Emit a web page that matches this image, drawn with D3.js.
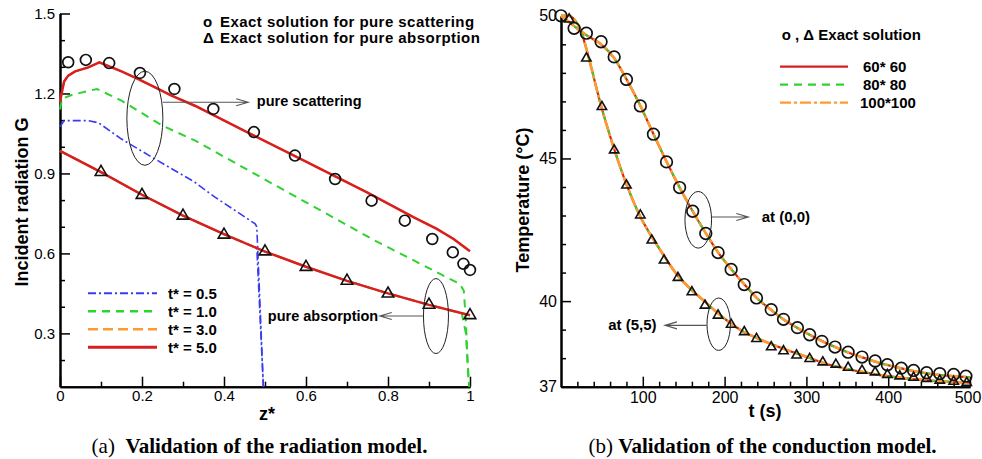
<!DOCTYPE html>
<html>
<head>
<meta charset="utf-8">
<script src="https://cdn.jsdelivr.net/npm/d3@7"></script>
<style>
  body { margin: 0; background: #fff; }
  svg { display: block; font-family: "Liberation Sans", Arial, sans-serif; }
</style>
</head>
<body>
<script>
// ---------- (a) radiation model : [z*, G] ----------
const exactScatZ = [0.02, 0.063, 0.12, 0.195, 0.279, 0.374, 0.473, 0.573, 0.671, 0.76, 0.841, 0.908, 0.958, 0.984, 1.0];
const exactScatG = [1.317, 1.326, 1.314, 1.277, 1.217, 1.142, 1.055, 0.967, 0.879, 0.798, 0.723, 0.654, 0.604, 0.561, 0.538];
const exactAbsZ = [0.1, 0.2, 0.3, 0.4, 0.5, 0.6, 0.7, 0.8, 0.9, 1.0];
const exactAbsG = [0.905, 0.819, 0.741, 0.670, 0.607, 0.549, 0.497, 0.449, 0.407, 0.368];

const scatT05 = [[0, 1.075], [0.01, 1.098], [0.07, 1.098], [0.094, 1.09], [0.15, 1.029], [0.232, 0.954], [0.329, 0.867], [0.378, 0.811], [0.476, 0.711], [0.48, 0.70], [0.496, 0.1]];
const scatT10 = [[0, 1.14], [0.005, 1.18], [0.03, 1.195], [0.09, 1.217], [0.15, 1.173], [0.25, 1.079], [0.33, 1.023], [0.5, 0.877], [0.65, 0.749], [0.768, 0.648], [0.85, 0.584], [0.95, 0.505], [0.975, 0.486], [0.985, 0.46], [0.99, 0.343], [0.995, 0.155], [0.998, 0.1]];
const scatT30 = [[0, 1.17], [0.01, 1.245], [0.02, 1.267], [0.037, 1.283], [0.069, 1.298], [0.096, 1.317], [0.15, 1.283], [0.191, 1.254], [0.232, 1.223], [0.272, 1.192], [0.329, 1.154], [0.45, 1.06], [0.6, 0.944], [0.75, 0.828], [0.862, 0.736], [0.919, 0.692], [0.96, 0.654], [1.0, 0.608]];
const scatT50 = [[0, 1.17], [0.01, 1.245], [0.02, 1.267], [0.037, 1.283], [0.069, 1.298], [0.096, 1.317], [0.15, 1.283], [0.191, 1.254], [0.232, 1.223], [0.272, 1.192], [0.329, 1.154], [0.45, 1.06], [0.6, 0.944], [0.75, 0.828], [0.862, 0.736], [0.919, 0.692], [0.96, 0.654], [1.0, 0.608]];

const absT05 = [[0, 0.985], [0.1, 0.905], [0.2, 0.82], [0.3, 0.742], [0.4, 0.672], [0.48, 0.62], [0.496, 0.1]];
const absT10 = [[0, 0.985], [0.1, 0.905], [0.2, 0.82], [0.3, 0.742], [0.4, 0.672], [0.5, 0.607], [0.6, 0.55], [0.7, 0.497], [0.8, 0.45], [0.9, 0.407], [0.98, 0.375], [0.99, 0.3], [0.998, 0.1]];
const absT30 = [[0, 0.985], [0.1, 0.905], [0.2, 0.82], [0.3, 0.742], [0.4, 0.672], [0.5, 0.607], [0.6, 0.55], [0.7, 0.497], [0.8, 0.45], [0.9, 0.407], [1.0, 0.368]];
const absT50 = [[0, 0.985], [0.1, 0.905], [0.2, 0.82], [0.3, 0.742], [0.4, 0.672], [0.5, 0.607], [0.6, 0.55], [0.7, 0.497], [0.8, 0.45], [0.9, 0.407], [1.0, 0.368]];

const legendA = ["t* = 0.5", "t* = 1.0", "t* = 3.0", "t* = 5.0"];
const zMajor = [0, 0.2, 0.4, 0.6, 0.8, 1];
const zMinor = [0.1, 0.3, 0.5, 0.7, 0.9];
const gMajor = [0.3, 0.6, 0.9, 1.2, 1.5];
const gMinor = [0.2, 0.4, 0.5, 0.7, 0.8, 1.0, 1.1, 1.3, 1.4];

// ---------- (b) conduction model : [t, T] ----------
const exact00T = [0, 16, 31, 49, 65, 80, 97, 113, 129, 145, 161, 177, 192, 208, 224, 239, 257, 272, 289, 304, 319, 335, 351, 368, 384, 399, 416, 431, 447, 463, 480, 495];
const exact00V = [50.0, 49.56, 49.39, 49.09, 48.56, 47.77, 46.84, 45.85, 44.88, 43.98, 43.15, 42.37, 41.70, 41.11, 40.58, 40.11, 39.70, 39.36, 39.07, 38.82, 38.59, 38.39, 38.21, 38.04, 37.90, 37.77, 37.65, 37.57, 37.49, 37.46, 37.43, 37.37];
const exact55T = [10, 31, 50, 65, 80, 97, 111, 126, 143, 160, 176, 192, 208, 224, 239, 257, 272, 288, 304, 320, 336, 351, 368, 384, 399, 414, 431, 447, 463, 480, 496];
const exact55V = [49.88, 48.51, 46.81, 45.29, 44.06, 43.01, 42.13, 41.43, 40.82, 40.32, 39.85, 39.50, 39.18, 38.92, 38.68, 38.39, 38.25, 38.10, 37.98, 37.86, 37.78, 37.67, 37.57, 37.51, 37.42, 37.37, 37.32, 37.28, 37.22, 37.18, 37.14];

const mesh00 = [[0, 50], [10, 49.78], [20, 49.55], [31, 49.32], [49, 49.0], [65, 48.52], [80, 47.78], [97, 46.85], [113, 45.86], [129, 44.89], [145, 43.98], [161, 43.15], [177, 42.38], [192, 41.71], [208, 41.12], [224, 40.59], [239, 40.12], [257, 39.69], [272, 39.36], [289, 39.06], [304, 38.82], [319, 38.6], [335, 38.39], [351, 38.2], [368, 38.03], [384, 37.88], [400, 37.75], [416, 37.64], [431, 37.55], [447, 37.47], [463, 37.41], [480, 37.37], [500, 37.33]];
const mesh55 = [[0, 50], [10, 50], [17, 49.85], [24, 49.5], [30, 48.95], [36, 48.3], [48, 46.95], [64, 45.42], [80, 44.1], [98, 42.9], [110, 42.3], [120, 41.85], [141, 40.96], [160, 40.38], [174, 40.03], [190, 39.62], [206, 39.25], [220, 38.98], [240, 38.7], [272, 38.33], [300, 38.05], [320, 37.84], [350, 37.62], [380, 37.46], [402, 37.36], [430, 37.27], [460, 37.2], [500, 37.14]];
const legendB = ["60* 60", "80* 80", "100*100"];
const tMajor = [100, 200, 300, 400, 500];
const tMinor = [20, 40, 60, 80, 120, 140, 160, 180, 220, 240, 260, 280, 320, 340, 360, 380, 420, 440, 460, 480];
const vMajor = [37, 40, 45, 50];
const vMinor = [38, 39, 41, 42, 43, 44, 46, 47, 48, 49];

const RED = "#d81e1e", GREEN = "#2fd22f", BLUE = "#3a3af0", ORANGE = "#ff9a30";

const svg = d3.select("body").append("svg").attr("width", 982).attr("height", 459);

// 스케일
const xA = d3.scaleLinear().domain([0, 1]).range([60, 470]);
const yA = d3.scaleLinear().domain([0.1, 1.5]).range([386.7, 13.5]);
const xB = d3.scaleLinear().domain([0, 500]).range([561, 970]);
const yB = d3.scaleLinear().domain([37, 50]).range([386.7, 15.8]);

function drawAxes(x, y, xMaj, xMin, yMaj, yMin, xFmt, yFmt, size, padX, padY) {
  const y0 = y.range()[0], x0 = x.range()[0];
  const style = (g) => {
    g.selectAll("text").style("font-size", size + "px").attr("fill", "#000");
    g.selectAll("line").attr("stroke", "#000").attr("stroke-width", 1.5);
    g.select(".domain").attr("stroke", "#000").attr("stroke-width", 2);
  };
  svg.append("g").attr("transform", `translate(0,${y0})`)
    .call(d3.axisBottom(x).tickValues(xMin).tickSize(-5).tickSizeOuter(0).tickFormat(""))
    .call(style);
  svg.append("g").attr("transform", `translate(${x0},0)`)
    .call(d3.axisLeft(y).tickValues(yMin).tickSize(-5).tickSizeOuter(0).tickFormat(""))
    .call(style);
  const xg = svg.append("g").attr("transform", `translate(0,${y0})`)
    .call(d3.axisBottom(x).tickValues(xMaj).tickSize(-10).tickSizeOuter(0).tickPadding(padX).tickFormat(xFmt))
    .call(style);
  svg.append("g").attr("transform", `translate(${x0},0)`)
    .call(d3.axisLeft(y).tickValues(yMaj).tickSize(-10).tickSizeOuter(0).tickPadding(padY).tickFormat(yFmt))
    .call(style);
  return xg;
}

drawAxes(xA, yA, zMajor, zMinor, gMajor, gMinor,
  (d) => (d === 0 || d === 1 ? String(d) : d.toFixed(1)), (d) => d.toFixed(1), 15, 4, 5);
drawAxes(xB, yB, tMajor, tMinor, vMajor, vMinor, (d) => String(d), (d) => String(d), 16, 5, 4)
  .selectAll(".tick text").filter((d) => d === 500).attr("dx", -2.5); // 오른쪽 끝 잘림 방지

function drawLine(data, x, y, color, width, dash, curve) {
  svg.append("path").datum(data)
    .attr("fill", "none").attr("stroke", color).attr("stroke-width", width)
    .attr("stroke-dasharray", dash)
    .attr("d", d3.line().x((d) => x(d[0])).y((d) => y(d[1])).curve(curve || d3.curveLinear));
}

function drawCircles(xs, ys, x, y, r) {
  svg.append("g").selectAll("circle").data(xs).enter().append("circle")
    .attr("cx", (d) => x(d)).attr("cy", (d, i) => y(ys[i])).attr("r", r)
    .attr("fill", "none").attr("stroke", "#111").attr("stroke-width", 1.7);
}

function drawTriangles(xs, ys, x, y, size) {
  svg.append("g").selectAll("path").data(xs).enter().append("path")
    .attr("d", d3.symbol().type(d3.symbolTriangle).size(size))
    .attr("transform", (d, i) => `translate(${x(d)},${y(ys[i])})`)
    .attr("fill", "none").attr("stroke", "#111").attr("stroke-width", 1.6);
}

// ---------- panel (a) ----------
const stylesA = [
  { color: BLUE, width: 1.6, dash: "8,3,2,3" },
  { color: GREEN, width: 2, dash: "8,6" },
  { color: ORANGE, width: 2, dash: "10,5" },
  { color: RED, width: 2.5, dash: null },
];
[scatT05, scatT10, scatT30, scatT50].forEach((s, i) => drawLine(s, xA, yA, stylesA[i].color, stylesA[i].width, stylesA[i].dash));
[absT05, absT10, absT30, absT50].forEach((s, i) => drawLine(s, xA, yA, stylesA[i].color, stylesA[i].width, stylesA[i].dash));
drawCircles(exactScatZ, exactScatG, xA, yA, 5.4);
drawTriangles(exactAbsZ, exactAbsG, xA, yA, 58);

// legend (a)
legendA.forEach((name, i) => {
  const yy = 293.3 + i * 18;
  svg.append("line").attr("x1", 88).attr("x2", 157).attr("y1", yy).attr("y2", yy)
    .attr("stroke", stylesA[i].color).attr("stroke-width", stylesA[i].width + 0.4)
    .attr("stroke-dasharray", stylesA[i].dash);
  svg.append("text").attr("x", 168).attr("y", yy + 5.5).style("font-size", "15px")
    .style("font-weight", "bold").text(name);
});
const topLegA = [["o", "Exact solution for pure scattering"], ["\u0394", "Exact solution for pure absorption"]];
topLegA.forEach((d, i) => {
  svg.append("text").attr("x", 203).attr("y", 26.5 + i * 16.5).style("font-size", "15px")
    .style("font-weight", "bold").text(d[0]);
  svg.append("text").attr("x", 220).attr("y", 26.5 + i * 16.5).style("font-size", "15px")
    .style("letter-spacing", "0.45px").style("font-weight", "bold").text(d[1]);
});

// 주석 (ellipse + arrow)
function annotate(x, y, a) {
  svg.append("ellipse").attr("cx", x(a.cx)).attr("cy", y(a.cy)).attr("rx", a.rx).attr("ry", a.ry)
    .attr("fill", "none").attr("stroke", "#222").attr("stroke-width", 1);
  const x1 = x(a.from), x2 = x(a.to), ay = y(a.ay);
  const dir = x2 > x1 ? 1 : -1;
  svg.append("path")
    .attr("d", `M${x1},${ay}L${x2},${ay}M${x2 - dir * 12},${ay - 3.5}L${x2},${ay}L${x2 - dir * 12},${ay + 3.5}`)
    .attr("fill", "none").attr("stroke", "#555").attr("stroke-width", 1.1);
  svg.append("text").attr("x", x(a.tx)).attr("y", y(a.ty)).style("font-size", a.fs + "px")
    .style("font-weight", "bold").text(a.text);
}
annotate(xA, yA, { cx: 0.207, cy: 1.107, rx: 18, ry: 47, from: 0.251, to: 0.459, ay: 1.167, tx: 0.48, ty: 1.152, text: "pure scattering", fs: 14.5 });
annotate(xA, yA, { cx: 0.917, cy: 0.365, rx: 12.5, ry: 37.5, from: 0.885, to: 0.78, ay: 0.365, tx: 0.507, ty: 0.346, text: "pure absorption", fs: 14.5 });

// ---------- panel (b) ----------
const stylesB = [
  { color: RED, width: 2.2, dash: null },
  { color: GREEN, width: 2, dash: "8,6" },
  { color: ORANGE, width: 2.6, dash: "11,3,3,3" },
];
[mesh00, mesh55].forEach((m) => {
  stylesB.forEach((s) => drawLine(m, xB, yB, s.color, s.width, s.dash, d3.curveMonotoneX));
});
drawCircles(exact00T, exact00V, xB, yB, 5.8);
drawTriangles(exact55T, exact55V, xB, yB, 38);

svg.append("text").attr("x", 781.7).attr("y", 40).style("font-size", "15px")
  .style("font-weight", "bold").text("o , \u0394 Exact solution");
legendB.forEach((name, i) => {
  const yy = 66.7 + i * 18;
  svg.append("line").attr("x1", 780).attr("x2", 848).attr("y1", yy).attr("y2", yy)
    .attr("stroke", stylesB[i].color).attr("stroke-width", 2.2)
    .attr("stroke-dasharray", stylesB[i].dash);
  svg.append("text").attr("x", i === 2 ? 860 : 863).attr("y", yy + 5.3).style("font-size", "15px")
    .style("font-weight", "bold").text(name);
});
annotate(xB, yB, { cx: 167.8, cy: 42.85, rx: 13.3, ry: 28.3, from: 184.2, to: 229, ay: 42.95, tx: 245.4, ty: 42.76, text: "at (0,0)", fs: 15 });
annotate(xB, yB, { cx: 192.8, cy: 39.19, rx: 11.7, ry: 26.2, from: 178.1, to: 127.1, ay: 39.15, tx: 57.8, ty: 38.99, text: "at (5,5)", fs: 15 });

// ---------- axis titles & captions ----------
svg.append("text").attr("transform", "translate(27.5,202) rotate(-90)").attr("text-anchor", "middle")
  .style("font-size", "18px").style("font-weight", "bold").text("Incident radiation G");
svg.append("text").attr("x", 267).attr("y", 420).attr("text-anchor", "middle")
  .style("font-size", "18px").style("font-weight", "bold").text("z*");
svg.append("text").attr("transform", "translate(528.5,200) rotate(-90)").attr("text-anchor", "middle")
  .style("font-size", "18px").style("font-weight", "bold").text("Temperature (\u00b0C)");
svg.append("text").attr("x", 765).attr("y", 417).attr("text-anchor", "middle")
  .style("font-size", "18px").style("font-weight", "bold").text("t (s)");

function caption(cx, label, body) {
  const t = svg.append("text").attr("x", cx).attr("y", 453).attr("text-anchor", "middle")
    .style("font-family", '"Liberation Serif", "Times New Roman", serif').style("font-size", "21px")
    .attr("xml:space", "preserve");
  t.append("tspan").text(label);
  t.append("tspan").style("font-weight", "bold").text(body);
}
caption(259.5, "(a)\u00a0\u00a0", "Validation of the radiation model.");
caption(762.5, "(b) ", "Validation of the conduction model.");
</script>
</body>
</html>
